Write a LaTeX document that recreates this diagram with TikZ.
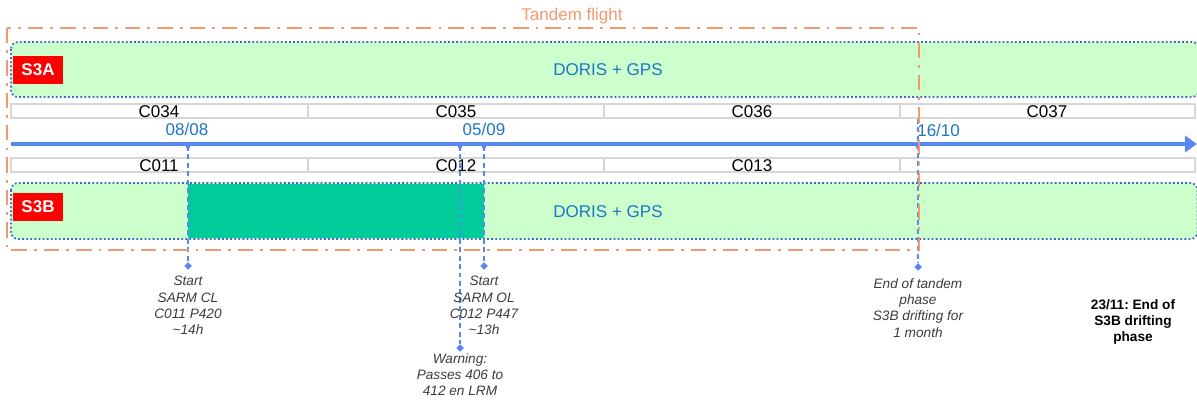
\documentclass[tikz,border=0pt]{standalone}
\usepackage{fontspec}
\setmainfont{Liberation Sans}
\usetikzlibrary{arrows.meta,shapes.geometric}
\definecolor{tandemorange}{RGB}{244,152,110}
\definecolor{bandgreen}{RGB}{204,255,204}
\definecolor{sarmgreen}{RGB}{0,204,153}
\definecolor{axisblue}{RGB}{86,136,240}
\definecolor{dotblue}{RGB}{70,102,200}
\definecolor{textblue}{RGB}{28,118,200}
\definecolor{cyclegray}{RGB}{215,215,215}
\definecolor{notegray}{RGB}{60,60,60}
\definecolor{satred}{RGB}{255,0,0}
\newcommand{\mainsize}{\fontsize{12.1pt}{14pt}\selectfont}
\newcommand{\notesize}{\fontsize{9.7pt}{11.6pt}\selectfont}
\frenchspacing

\begin{document}
\begin{tikzpicture}[ x=0.025cm, y=-0.025cm
                   , every node/.style={inner sep=0pt}
                   , bandfill/.style={fill=bandgreen, rounded corners=5pt}
                   , bandline/.style={draw=dotblue, line width=1.3pt, dash pattern=on 1.3pt off 1.6pt, rounded corners=5pt}
                   , tandemline/.style={draw=tandemorange, line width=1.7pt, dash pattern=on 11pt off 5pt on 2pt off 5pt}
                   , cyclebox/.style={draw=cyclegray, fill=white, line width=2pt}
                   , satlabel/.style={fill=satred, text=white, font=\bfseries\mainsize, minimum width=1.25cm, minimum height=0.72cm}
                   , axis/.style={draw=axisblue, line width=2.8pt, -{Triangle[length=8.5pt,width=11.5pt]}}
                   , markline/.style={draw=axisblue, line width=0.8pt, dash pattern=on 3.5pt off 2.5pt}
                   , marker/.style={diamond, fill=axisblue, minimum size=5.5pt}
                   , note/.style={anchor=north, align=center, text=notegray, font=\notesize\itshape}
                   ]

      \useasboundingbox (0,0) rectangle (1197,400);

      % tandem frame
      \node (tandemlbl) [text=tandemorange, font=\mainsize] at (572,16) {Tandem flight};

      % S3A band
      \fill [bandfill] (11,42) rectangle (1199,97);
      \draw [bandline] (11,42) rectangle (1199,97);
      \node (s3a) [satlabel] at (38,70) {S3A};
      \node (dorisa) [text=textblue, font=\mainsize] at (608,70) {DORIS + GPS};

      % S3B band
      \fill [bandfill] (11,183) rectangle (1197.5,239);
      \fill [sarmgreen] (188,184) rectangle (484,238);
      \draw [bandline] (11,183) rectangle (1197.5,239);
      \node (s3b) [satlabel] at (38,207) {S3B};
      \node (dorisb) [text=textblue, font=\mainsize] at (608,212) {DORIS + GPS};

      % cycles
      \draw [cyclebox] (11,104) rectangle (1195,118);
      \draw [cyclebox] (308,104) -- (308,118)
                       (604,104) -- (604,118)
                       (900,104) -- (900,118);
      \node (c034) [font=\mainsize] at (159,112) {C034};
      \node (c035) [font=\mainsize] at (456,112) {C035};
      \node (c036) [font=\mainsize] at (752,112) {C036};
      \node (c037) [font=\mainsize] at (1047,112) {C037};

      \draw [cyclebox] (11,158) rectangle (1195,172);
      \draw [cyclebox] (308,158) -- (308,172)
                       (604,158) -- (604,172)
                       (900,158) -- (900,172);
      \node (c011) [font=\mainsize] at (159,166) {C011};
      \node (c012) [font=\mainsize] at (456,166) {C012};
      \node (c013) [font=\mainsize] at (752,166) {C013};

      % time axis
      \coordinate (axisstart) at (11,144);
      \coordinate (axisend) at (1197,144);
      \draw [axis] (axisstart) -- (axisend);

      \node (d0808) [text=textblue, font=\mainsize] at (187,129) {08/08};
      \node (d0509) [text=textblue, font=\mainsize] at (484,129) {05/09};
      \node (d1610) [text=textblue, font=\mainsize, anchor=west] at (917,130) {16/10};

      \fill [axisblue] (185,145) -- (191,145) -- (188,151) -- cycle;
      \fill [axisblue] (457,145) -- (463,145) -- (460,151) -- cycle;
      \fill [axisblue] (481,145) -- (487,145) -- (484,151) -- cycle;
      \fill [axisblue] (915,145) -- (921,145) -- (918,151) -- cycle;

      \coordinate (tsarmcl) at (188,146);
      \coordinate (twarn) at (460,146);
      \coordinate (tsarmol) at (484,146);
      \coordinate (tend) at (918,119);

      \node (msarmcl) [marker] at (188,266) {};
      \node (mwarn) [marker] at (460,348) {};
      \node (msarmol) [marker] at (484,266) {};
      \node (mend) [marker] at (918,267) {};

      \draw [markline] (tsarmcl) -- (msarmcl);
      \draw [markline] (twarn) -- (mwarn);
      \draw [markline] (tsarmol) -- (msarmol);
      \draw [markline] (tend) -- (mend);

      \draw [tandemline] (7,28) rectangle (919,250);

      % notes
      \node (nsarmcl) [note] at (188,276) {Start\\SARM CL\\C011 P420\\\textasciitilde14h};
      \node (nsarmol) [note] at (484,276) {Start\\SARM OL\\C012 P447\\\textasciitilde13h};
      \node (nwarn) [note] at (460,353) {Warning:\\Passes 406 to\\412 en LRM};
      \node (nend) [note] at (918,278) {End of tandem\\phase\\S3B drifting for\\1 month};
      \node (ndrift) [anchor=north, align=center, font=\notesize\bfseries] at (1133,299) {23/11: End of\\S3B drifting\\phase};

  \end{tikzpicture}
\end{document}
